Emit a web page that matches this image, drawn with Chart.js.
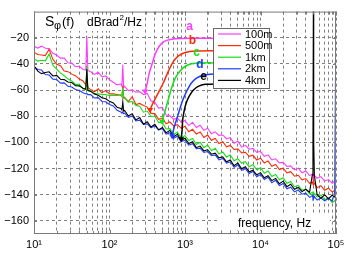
<!DOCTYPE html>
<html>
<head>
<meta charset="utf-8">
<script src="https://cdn.jsdelivr.net/npm/chart.js@4.4.1/dist/chart.umd.min.js"></script>
<style>
  html, body { margin: 0; padding: 0; background: #fff; }
</style>
</head>
<body>
<canvas id="c" width="353" height="253"></canvas>
<script>
// phase noise spectra, dBrad^2/Hz vs frequency (Hz)
const freq = [
  10, 11.22, 12.59, 14.13, 15.85, 17.78, 19.95, 22.39, 25.12, 28.18, 31.62, 35.48, 39.81, 44.67,
  48.5, 50.12, 51.7, 56.23, 63.1, 70.79, 79.43, 89.13, 100, 112.2, 125.9, 141.3,
  146, 150, 154, 158.5, 177.8, 199.5, 223.9, 251.2, 281.8, 316.2, 354.8, 398.1, 446.7, 501.2, 562.3, 631, 707.9, 794.3, 891.3,
  1000, 1122, 1259, 1413, 1585, 1778, 1995, 2239, 2512, 2818, 3162, 3548, 3981, 4467, 5012, 5623, 6310, 7079, 7943, 8913,
  10000, 11220, 12590, 14130, 15850, 17780, 19950, 22390, 25120, 28180, 31620, 35480, 39810, 44670,
  48500, 49500, 50120, 50700, 51700, 56230, 63100, 70790, 79430, 89130, 96000, 100000
];

const psd100m = [
  -26.5, -27.9, -26.4, -28, -28.2, -31.9, -33.2, -35.6, -35.6, -39.1, -39.4, -42.1, -41.8, -44.2,
  -44.5, -19, -45, -46, -48, -46.4, -49.8, -49.2, -52.1, -54, -56, -55.4,
  -57, -40.7, -58, -57.2, -60.4, -59.8, -61.6, -61.2, -63.5, -62.6, -68.4, -69.2, -73.8, -73.2, -79, -79.6, -82.3, -81.4, -84.5,
  -83.2, -87.1, -84.6, -88.6, -86.9, -90.8, -89.1, -93.4, -91.9, -94.6, -94.3, -97.2, -96.3, -100.6, -99.1, -103.6, -102.2, -105.2, -104.6, -107.6,
  -106.8, -110.6, -109.5, -113.4, -112.5, -115.6, -115.3, -118.4, -117.9, -121, -119.6, -123.2, -121.8, -125.4,
  -124.2, -126.2, -125, -126, -125, -127.4, -126.1, -129.6, -128.4, -131.2, -129.8, -131.5
];
const psd500m = [
  -31, -32.8, -33.2, -33.6, -28.8, -36.5, -40.2, -41.4, -45.4, -45.9, -47.8, -49, -51.6, -53,
  -56, -52, -58, -59.6, -61.4, -59, -62.1, -60.2, -62.9, -62.9, -63.4, -64,
  -65, -56.5, -66, -65.4, -68.8, -65.1, -71, -70.2, -71.8, -73, -77.8, -78, -82.4, -81.5, -85.8, -84.4, -87.4, -86.4, -89.2,
  -87.6, -91.8, -90, -93.6, -92, -96.2, -94.4, -98.4, -97, -100.8, -99.4, -103.4, -102.3, -105.4, -104.9, -108, -107.5, -110.6, -109.7, -113.4,
  -112, -115.7, -114.1, -118.2, -116.9, -120.8, -119.7, -123.2, -122.4, -125.8, -125.1, -128.6, -127.6, -131.2,
  -130.4, -131.8, -129, -132, -131.2, -134.6, -133, -136.6, -135, -138, -136.6, -137.7
];
const psd1km = [
  -36.2, -37.8, -37.2, -37.6, -32.5, -41, -44, -46.8, -49, -51.6, -53, -55.6, -55.6, -59.2,
  -59.5, -42, -60.5, -60.4, -62.9, -62.9, -63.4, -63.4, -64.2, -64, -64.1, -63.6,
  -64.8, -58, -66, -66.1, -69.2, -68.7, -71.7, -72.4, -76.9, -76, -80.2, -79.8, -84.7, -84.8, -89.7, -89.5, -93.8, -92.2, -96.4,
  -94.8, -98.6, -97, -101.6, -99.8, -104, -102, -106.4, -104.4, -108.8, -107.2, -111.2, -109.6, -114, -112.4, -116, -114.8, -118.6, -117, -121,
  -119.3, -123.6, -121.8, -126, -124.5, -128.6, -127, -131.2, -129.8, -134, -132.8, -136.4, -135.8, -139.4,
  -138.2, -139.4, -138.6, -139.8, -139, -141.8, -140.2, -143.8, -142.3, -146, -144.4, -146
];
const psd2km = [
  -42.2, -44.3, -44.7, -48.1, -48.5, -51.6, -51.9, -54.7, -54.5, -57.1, -57.7, -59.5, -60.3, -62.1,
  -63, -62.6, -63.5, -63.5, -66, -65.8, -68.7, -68.9, -71, -72.1, -75.5, -76.7,
  -77.6, -76.8, -78, -77.6, -80.8, -79.8, -83.6, -83, -86.2, -85.8, -88.8, -87.2, -90.4, -89.5, -93.6, -92.5, -96.8, -95.2, -99.4,
  -98.4, -102, -101, -104.8, -104.4, -107.6, -107, -110.2, -109.6, -113.4, -112.2, -115.8, -114.8, -119, -117.2, -121.4, -120.1, -123.8, -122.2, -126.2,
  -124.5, -128.4, -126.6, -130.8, -129, -133, -131.4, -135.4, -134.2, -137.8, -136.4, -139.6, -138.8, -142,
  -140.6, -142.2, -141, -142.6, -141.4, -144, -142.5, -144.6, -142.8, -144.8, -138, 5
];
const psd4km = [
  -41.4, -45.5, -47.4, -46.5, -46, -49.2, -48.8, -51.7, -52, -53.8, -54.2, -56.6, -56.8, -58.6,
  -59.4, -44, -60.2, -61, -62.9, -64, -65.8, -66.6, -68.6, -69.8, -73.1, -74,
  -75.2, -69, -76, -75.6, -79.8, -78, -82.8, -81, -86, -84.2, -88.2, -86.2, -90.4, -88.6, -92.6, -90.8, -95.6, -93.8, -98.6,
  -96.8, -100.8, -99.4, -104, -102.8, -106.4, -105.6, -109, -108.2, -111.8, -111, -114.8, -113.4, -117.8, -115.8, -120.2, -118.6, -122.4, -121.2, -124.8,
  -123.1, -127, -125.4, -129.2, -127.5, -131.6, -129.6, -133.8, -132, -135.8, -134.4, -137.6, -135.8, -138,
  -125, -100, 5, -100, -125, -140, -142.6, -140, -143.2, -140.2, -141.8, -140.7
];

// cut-off curves a..e (first point = arrow tip)
const cutA_f = [296.5, 315.5, 335, 367, 402, 455, 530, 637, 864, 3200];
const cutA_db = [-60.8, -54.9, -47.4, -39.9, -32.5, -26.5, -22.8, -21.3, -20.5, -20.5];
const cutB_f = [345, 378, 441, 514, 599, 697, 812, 1007, 1366, 3200];
const cutB_db = [-75, -69.8, -62.3, -54.8, -45.9, -38.4, -34, -31.3, -30.2, -30];
const cutC_f = [499, 546, 599, 656, 741, 864, 1037, 1366, 3200];
const cutC_db = [-84, -75.7, -67.5, -59.3, -51.1, -45.2, -41.4, -39.5, -39.2];
const cutD_f = [676, 719, 788, 864, 946, 1069, 1208, 1406, 1690, 2158, 3200];
const cutD_db = [-95.1, -88.4, -81, -73.5, -66.8, -60.1, -54.8, -51.1, -48.9, -47.8, -47.4];
const cutE_f = [891, 918, 933, 976, 1037, 1138, 1285, 1496, 1852, 3200];
const cutE_db = [-97.4, -89.9, -82.5, -75.7, -69.8, -64.6, -60.1, -57.1, -55.6, -55.2];

const seriesNames = ['100m', '500m', '1km', '2km', '4km'];
const curveTags = ['a', 'b', 'c', 'd', 'e'];
const xTicks = [10, 20, 30, 40, 50, 60, 70, 80, 90,
  100, 200, 300, 400, 500, 600, 700, 800, 900,
  1000, 2000, 3000, 4000, 5000, 6000, 7000, 8000, 9000,
  10000, 20000, 30000, 40000, 50000, 60000, 70000, 80000, 90000, 100000];
const xLabels = {10: '10\u00b9', 100: '10\u00b2', 1000: '10\u00b3', 10000: '10\u2074', 100000: '10\u2075'};
const yTicks = [-160, -140, -120, -100, -80, -60, -40, -20];

const colors = ['#ff3cff', '#ff2a0a', '#14e014', '#1e3cff', '#000000'];

const pts = (fs, vs) => fs.map((f, i) => ({x: f, y: vs[i]}));

const noise = [psd100m, psd500m, psd1km, psd2km, psd4km].map((s, i) => ({
  label: seriesNames[i],
  data: pts(freq, s),
  borderColor: colors[i],
  borderWidth: 1.1,
  pointRadius: 0,
  order: 5 - i
}));

const cuts = [[cutA_f, cutA_db], [cutB_f, cutB_db], [cutC_f, cutC_db], [cutD_f, cutD_db], [cutE_f, cutE_db]].map((c, i) => ({
  label: curveTags[i],
  data: pts(c[0], c[1]),
  borderColor: colors[i],
  backgroundColor: colors[i],
  borderWidth: 1.5,
  tension: 0.35,
  pointStyle: 'triangle',
  rotation: 180,
  pointRadius: ctx => ctx.dataIndex === 0 ? 3.5 : 0,
  pointBorderWidth: 0,
  order: 0
}));

const FONT = '"Liberation Sans", Arial, Helvetica, sans-serif';

const decor = {
  id: 'decor',
  beforeDatasetsDraw(chart) {
    const ctx = chart.ctx;
    ctx.save();
    ctx.fillStyle = '#fff';
    ctx.fillRect(36, 10, 106, 21);   // title box
    ctx.fillRect(220, 213, 110, 17); // axis label box
    ctx.restore();
  },
  afterDatasetsDraw(chart) {
    const {ctx, chartArea: a, scales: {x, y}} = chart;
    ctx.save();
    // frame + inward ticks
    ctx.strokeStyle = '#7a7a7a';
    ctx.lineWidth = 1;
    ctx.strokeRect(a.left + 0.5, a.top + 0.5, a.right - a.left - 1, a.bottom - a.top - 1);
    ctx.beginPath();
    xTicks.forEach(v => {
      const px = Math.round(x.getPixelForValue(v)) + 0.5;
      const len = xLabels[v] ? 4 : 3;
      ctx.moveTo(px, a.top); ctx.lineTo(px, a.top + len);
      ctx.moveTo(px, a.bottom); ctx.lineTo(px, a.bottom - len);
    });
    yTicks.forEach(v => {
      const py = Math.round(y.getPixelForValue(v)) + 0.5;
      ctx.moveTo(a.left, py); ctx.lineTo(a.left + 3, py);
      ctx.moveTo(a.right, py); ctx.lineTo(a.right - 3, py);
    });
    ctx.stroke();

    // title
    ctx.fillStyle = '#000';
    ctx.textBaseline = 'alphabetic';
    ctx.textAlign = 'left';
    ctx.font = '14px ' + FONT;
    ctx.fillText('S', 45, 26);
    ctx.font = '11px ' + FONT;
    ctx.fillText('\u03c6', 54, 29);
    ctx.font = '13px ' + FONT;
    ctx.fillText('(f)', 62, 26);
    ctx.font = '12px ' + FONT;
    ctx.fillText('dBrad', 87, 26);
    let w = ctx.measureText('dBrad').width;
    ctx.font = '8px ' + FONT;
    ctx.fillText('2', 87 + w + 0.5, 20);
    ctx.font = '12px ' + FONT;
    ctx.fillText('/Hz', 87 + w + 5, 26);

    // x axis label
    ctx.font = '12px ' + FONT;
    ctx.fillText('frequency, Hz', 238, 227);

    // curve tags
    const tagPos = [[189.5, 27], [192.5, 40.5], [196.5, 53], [200, 65], [203.5, 77]];
    ctx.font = 'bold 12px ' + FONT;
    ctx.textAlign = 'center';
    ctx.textBaseline = 'middle';
    curveTags.forEach((t, i) => {
      ctx.fillStyle = colors[i];
      ctx.fillText(t, tagPos[i][0], tagPos[i][1]);
    });

    // legend
    ctx.fillStyle = '#fff';
    ctx.fillRect(213, 28, 56, 60);
    ctx.strokeStyle = '#666';
    ctx.strokeRect(213.5, 28.5, 56, 60);
    ctx.font = '11px ' + FONT;
    ctx.textAlign = 'left';
    seriesNames.forEach((n, i) => {
      const ly = 34 + i * 11.6;
      ctx.strokeStyle = colors[i];
      ctx.lineWidth = 1.2;
      ctx.beginPath();
      ctx.moveTo(218, ly); ctx.lineTo(241, ly);
      ctx.stroke();
      ctx.fillStyle = '#000';
      ctx.fillText(n, 245, ly + 0.5);
    });
    ctx.restore();
  }
};

Chart.defaults.font.family = FONT;

new Chart(document.getElementById('c'), {
  type: 'line',
  data: {datasets: noise.concat(cuts)},
  options: {
    responsive: false,
    animation: false,
    devicePixelRatio: 1,
    layout: {padding: {top: 7, right: 17, left: 0, bottom: 0}},
    plugins: {legend: {display: false}, tooltip: {enabled: false}},
    scales: {
      x: {
        type: 'logarithmic',
        min: 10,
        max: 100000,
        afterBuildTicks: s => { s.ticks = xTicks.map(v => ({value: v})); },
        afterFit: s => { s.height = 19; },
        ticks: {autoSkip: false, maxRotation: 0, padding: 4, color: '#000', font: {size: 11},
          callback: v => xLabels[v] || ''},
        grid: {color: '#808080', lineWidth: 1, drawTicks: false},
        border: {display: false, dash: [3, 3]}
      },
      y: {
        min: -170,
        max: 0,
        afterBuildTicks: s => { s.ticks = yTicks.map(v => ({value: v})); },
        afterFit: s => { s.width = 34; },
        ticks: {padding: 5, color: '#000', font: {size: 11},
          callback: v => '\u2212' + Math.abs(v)},
        grid: {color: '#808080', lineWidth: 1, drawTicks: false},
        border: {display: false, dash: [3, 3]}
      }
    }
  },
  plugins: [decor]
});
</script>
</body>
</html>
